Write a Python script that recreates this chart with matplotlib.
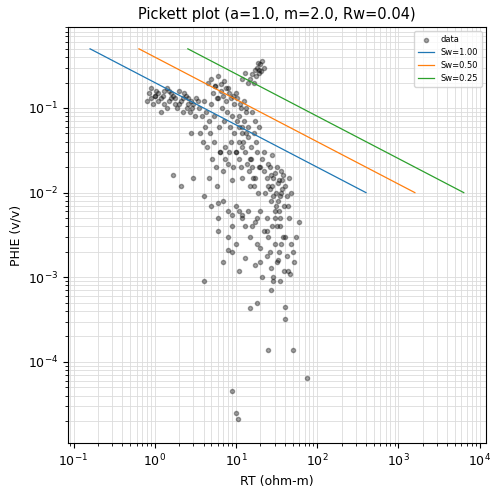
import numpy as np
import matplotlib.pyplot as plt

plt.rcParams['font.size'] = 9

a, m, n, rw = 1.0, 2.0, 2.0, 0.04
sw_values = [1.00, 0.50, 0.25]

# RT (ohm-m), PHIE (v/v)
rt = [0.8, 0.9, 1.0, 1.1, 1.2, 1.3, 1.5, 1.7, 2.0, 2.2, 2.5, 2.8, 0.85, 0.95, 1.05, 1.25, 1.4, 1.6, 1.8, 2.1, 2.4, 2.7, 3.0, 3.2,
      0.9, 1.1, 1.3, 1.5, 1.9, 2.3, 2.6, 1.2, 1.6, 2.0, 2.9, 3.4, 1.0, 1.4, 1.8, 2.2, 2.6, 3.1,
      3.5, 3.8, 4.0, 4.3, 4.6, 5.0, 5.4, 5.8, 6.2, 6.8, 7.2, 7.8, 8.4, 9.0, 9.6, 10.4, 11.0, 12.0,
      3.6, 4.2, 4.8, 5.2, 5.6, 6.0, 6.6, 7.0, 7.6, 8.0, 8.8, 9.4, 10.0, 11.5, 12.5, 13.5,
      4.5, 5.0, 5.5, 6.1, 6.5, 7.1, 7.5, 8.2, 9.1, 10.2, 11.2, 3.9, 4.4, 5.3, 6.3, 7.3, 8.6,
      5.1, 5.7, 6.4, 7.4, 8.3, 9.2, 4.7, 5.9, 6.9, 7.9, 8.9, 9.9, 10.8, 11.8,
      10.0, 10.8, 11.5, 12.2, 13.0, 13.8, 14.5, 15.2, 16.0, 17.0, 18.0, 19.0, 12.0, 13.2, 14.2, 15.5, 16.5, 17.5,
      11.0, 12.5, 14.0, 15.0, 16.2, 18.5, 13.5, 15.8, 17.2, 19.5, 11.8, 14.8, 16.8,
      20, 22, 24, 26, 28, 30, 32, 34, 36, 38, 40, 21, 23, 25, 27, 29, 31, 33, 35, 37, 39, 42,
      22, 25, 28, 31, 34, 37, 24, 27, 30, 33, 36, 26, 29, 32, 35, 45, 48, 44,
      15, 16, 17, 18, 19, 20, 21, 22, 16.5, 17.5, 18.5, 19.5, 20.5, 12, 14, 13,
      4, 5, 6, 7, 8, 9, 10, 12, 14, 16, 18, 20, 25, 30, 35, 40, 45, 50, 55, 60,
      6, 8, 10, 13, 15, 18, 22, 26, 30, 34, 38, 42, 48, 9, 11, 17, 24, 28, 32, 36,
      7, 9, 11, 13, 17, 21, 27, 33, 39, 47, 52, 20, 24, 29, 35, 44,
      4, 25, 50, 75, 9, 10, 10.5, 18, 15, 40, 40, 20, 29, 8, 12, 27, 6, 1.7, 2.1, 3.0, 2.8]
phie = [0.12, 0.13, 0.14, 0.15, 0.13, 0.16, 0.12, 0.14, 0.11, 0.13, 0.10, 0.12, 0.15, 0.11, 0.16, 0.14, 0.10, 0.15, 0.13, 0.12, 0.14, 0.09, 0.11, 0.13,
        0.17, 0.12, 0.11, 0.16, 0.10, 0.15, 0.11, 0.09, 0.13, 0.16, 0.10, 0.12, 0.14, 0.17, 0.11, 0.09, 0.13, 0.08,
        0.10, 0.08, 0.12, 0.09, 0.07, 0.11, 0.08, 0.13, 0.06, 0.10, 0.07, 0.09, 0.06, 0.08, 0.05, 0.07, 0.06, 0.05,
        0.05, 0.06, 0.05, 0.15, 0.18, 0.13, 0.16, 0.14, 0.12, 0.17, 0.13, 0.11, 0.15, 0.10, 0.12, 0.09,
        0.20, 0.22, 0.18, 0.24, 0.19, 0.21, 0.17, 0.15, 0.14, 0.13, 0.11, 0.04, 0.035, 0.04, 0.03, 0.035, 0.04,
        0.025, 0.02, 0.03, 0.025, 0.03, 0.02, 0.015, 0.012, 0.018, 0.022, 0.014, 0.03, 0.04, 0.035,
        0.03, 0.025, 0.02, 0.04, 0.03, 0.022, 0.018, 0.025, 0.02, 0.015, 0.03, 0.02, 0.06, 0.05, 0.045, 0.035, 0.05, 0.04,
        0.08, 0.07, 0.06, 0.012, 0.015, 0.01, 0.1, 0.09, 0.07, 0.06, 0.015, 0.025, 0.012,
        0.02, 0.018, 0.015, 0.02, 0.012, 0.017, 0.02, 0.014, 0.018, 0.016, 0.012, 0.025, 0.01, 0.022, 0.008, 0.015, 0.01, 0.013, 0.009, 0.011, 0.007, 0.009,
        0.03, 0.012, 0.028, 0.007, 0.006, 0.014, 0.005, 0.016, 0.006, 0.008, 0.01, 0.011, 0.009, 0.004, 0.005, 0.015, 0.01, 0.007,
        0.22, 0.25, 0.28, 0.30, 0.26, 0.33, 0.36, 0.30, 0.2, 0.24, 0.34, 0.28, 0.27, 0.22, 0.2, 0.26,
        0.009, 0.007, 0.005, 0.008, 0.006, 0.004, 0.007, 0.005, 0.006, 0.004, 0.005, 0.006, 0.003, 0.005, 0.004, 0.003, 0.005, 0.002, 0.003, 0.0045,
        0.0035, 0.003, 0.0025, 0.004, 0.003, 0.0025, 0.0035, 0.002, 0.0025, 0.002, 0.003, 0.0018, 0.0025, 0.0055, 0.006, 0.0045, 0.0035, 0.004, 0.0015, 0.0025,
        0.0015, 0.002, 0.0012, 0.0017, 0.0014, 0.001, 0.0013, 0.0016, 0.0012, 0.0011, 0.0015, 0.0022, 0.0018, 0.001, 0.0009, 0.0012,
        0.0009, 0.00014, 0.00014, 0.000065, 0.000045, 0.000025, 0.000021, 0.0005, 0.00043, 0.00044, 0.00032, 0.0015, 0.0009, 0.0021, 0.0055, 0.0007, 0.0075, 0.016, 0.012, 0.015, 0.05]

fig, ax = plt.subplots(figsize=(5.02, 4.95), dpi=100)
ax.set_axisbelow(True)
ax.scatter(rt, phie, s=9, c='black', alpha=0.35, label='data')

phi_line = np.array([0.5, 0.01])
for sw in sw_values:
    rt_line = a * rw / (sw ** n * phi_line ** m)
    ax.plot(rt_line, phi_line, lw=0.9, label=f'Sw={sw:.2f}')

ax.set_xscale('log')
ax.set_yscale('log')
ax.set_xlim(0.085, 12000)
ax.set_ylim(1.1e-5, 0.9)
ax.grid(True, which='both', color='#dcdcdc', lw=0.6)
ax.set_xlabel('RT (ohm-m)')
ax.set_ylabel('PHIE (v/v)')
ax.set_title('Pickett plot (a=1.0, m=2.0, Rw=0.04)', fontsize=10.5)
ax.legend(fontsize=6, loc='upper right')
fig.subplots_adjust(left=0.135, right=0.968, top=0.945, bottom=0.105)
fig.savefig('out.png')
